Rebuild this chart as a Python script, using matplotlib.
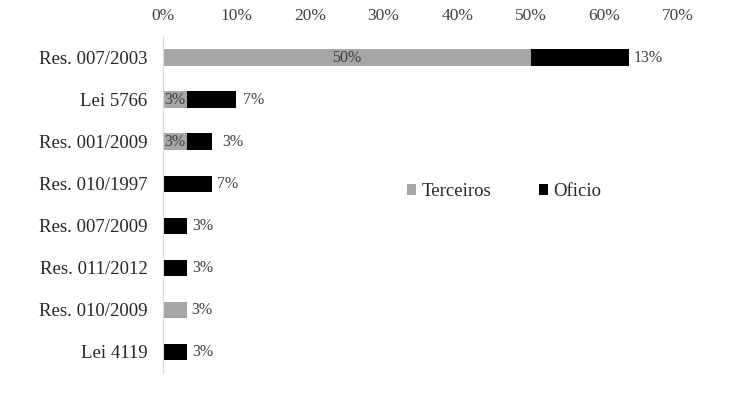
import matplotlib
matplotlib.use("Agg")
import matplotlib.pyplot as plt
import matplotlib.ticker as ticker

plt.rcParams["font.family"] = ["Liberation Serif", "DejaVu Serif"]

# ---------------------------------------------------------------------------
# Data (share of 30 cases, in %)
# ---------------------------------------------------------------------------

categories = ["Res. 007/2003", "Lei 5766", "Res. 001/2009", "Res. 010/1997",
              "Res. 007/2009", "Res. 011/2012", "Res. 010/2009", "Lei 4119"]
terceiros = [50.0, 3.33, 3.33, 0, 0, 0, 3.33, 0]
oficio = [13.33, 6.67, 3.33, 6.67, 3.33, 3.33, 0, 3.33]
x_ticks = [0, 10, 20, 30, 40, 50, 60, 70]

GREY = "#a6a6a6"
BLACK = "#000000"
LABEL_COLOR = "#404040"

fig = plt.figure(figsize=(7.54, 4.05), dpi=100)
ax = fig.add_axes([0.216, 0.079, 0.683, 0.830])

y = list(range(len(categories)))
ax.barh(y, terceiros, height=0.4, color=GREY, label="Terceiros")
ax.barh(y, oficio, left=terceiros, height=0.4, color=BLACK, label="Oficio")

# Data labels: grey share inside when stacked, otherwise just past the bar end
for i, (t, o) in enumerate(zip(terceiros, oficio)):
    if t > 0 and o > 0:
        ax.text(t / 2, i, f"{t:.0f}%", ha="center", va="center",
                fontsize=11.5, color=LABEL_COLOR)
    elif t > 0:
        ax.annotate(f"{t:.0f}%", (t, i), xytext=(3, 0), textcoords="offset points",
                    ha="left", va="center", fontsize=11.5, color=LABEL_COLOR)
    if o > 0:
        gap = 3.5
        if t > 0 and o < 5:
            gap = 7.5
        elif t > 0 and t < 10:
            gap = 5
        ax.annotate(f"{o:.0f}%", (t + o, i), xytext=(gap, 0), textcoords="offset points",
                    ha="left", va="center", fontsize=11.5, color=LABEL_COLOR)

ax.set_xlim(0, 70)
ax.set_ylim(len(categories) - 0.5, -0.5)
ax.set_xticks(x_ticks)
ax.xaxis.set_major_formatter(ticker.FuncFormatter(lambda v, _: f"{v:.0f}%"))
ax.xaxis.tick_top()
ax.set_yticks(y)
ax.set_yticklabels(categories)
ax.tick_params(axis="both", length=0, colors="#262626")
ax.tick_params(axis="x", pad=9, labelsize=12.5, labelcolor="#404040")
ax.tick_params(axis="y", pad=11, labelsize=13.5)

for side in ("top", "right", "bottom"):
    ax.spines[side].set_visible(False)
ax.spines["left"].set_color("#d9d9d9")

ax.legend(loc="center left", bbox_to_anchor=(0.530, 0.526),
          bbox_transform=fig.transFigure, borderaxespad=0, ncol=2, frameon=False,
          fontsize=13.5, handlelength=0.5, handleheight=0.5,
          handletextpad=0.3, columnspacing=2.5, labelcolor="#262626")

fig.savefig("out.png", dpi=100, facecolor="white")
